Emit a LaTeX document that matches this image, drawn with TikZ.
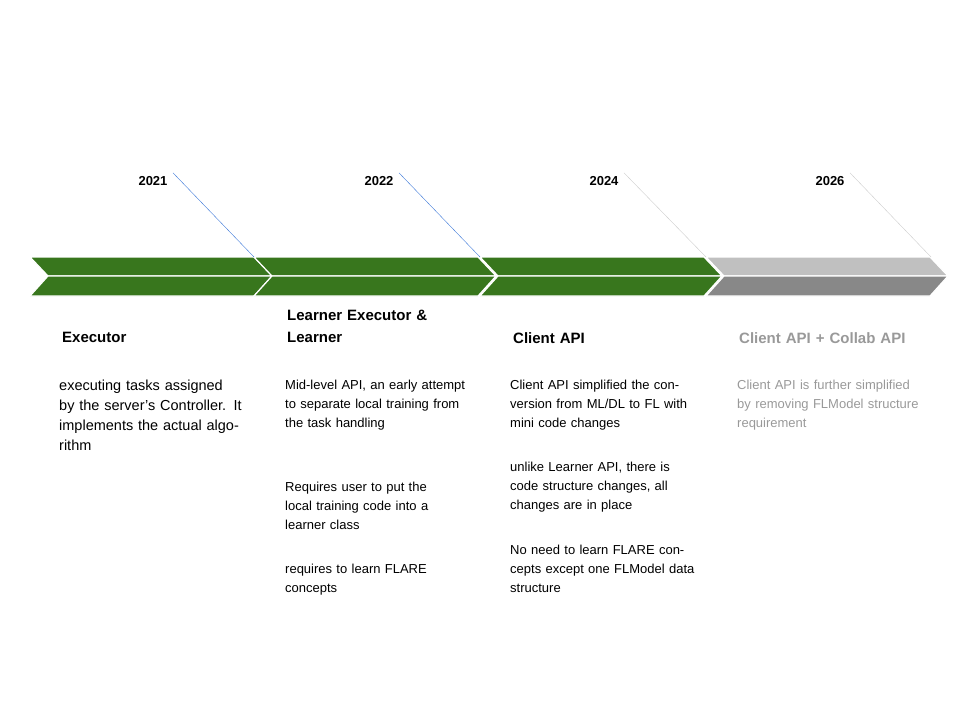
\documentclass[tikz,border=0pt]{standalone}
\usepackage{fontspec}
\setmainfont{Liberation Sans}
\usetikzlibrary{positioning}
\definecolor{flgreen}{HTML}{38761D}
\definecolor{futtop}{HTML}{C0C0C0}
\definecolor{futbot}{HTML}{888888}
\definecolor{futtext}{HTML}{999999}
\definecolor{lineblue}{HTML}{3C78D8}
\definecolor{linegray}{HTML}{CCCCCC}
\begin{document}
\begin{tikzpicture}[
	x=1pt, y=-1pt,
	year/.style = { font=\fontsize{13}{15}\selectfont\bfseries, anchor=center },
	heading/.style = { font=\fontsize{15}{22}\selectfont\bfseries, anchor=north west, align=left, text width=180pt, inner sep=0pt },
	body/.style = { font=\fontsize{13}{19}\selectfont, anchor=north west, align=left, text width=190pt, inner sep=0pt },
	half/.style = { draw=white, line width=1.2pt }
	]
\useasboundingbox (0,0) rectangle (960,720);

	% chevron band
	\foreach \x/\top/\bot in {30/flgreen/flgreen, 254/flgreen/flgreen, 480/flgreen/flgreen, 706/futtop/futbot} {
		\fill[\top, half] (\x,257) -- (\x+224,257) -- (\x+242,276) -- (\x+18,276) -- cycle;
		\fill[\bot, half] (\x+18,276) -- (\x+242,276) -- (\x+224,296) -- (\x,296) -- cycle;
	}
	\coordinate (b1) at (254,257);
	\coordinate (b2) at (480,257);
	\coordinate (b3) at (706,257);
	\coordinate (b4) at (931,257);

	% years
	\node (y2021) [year] at (153,181) {2021};
	\node (y2022) [year] at (379,181) {2022};
	\node (y2024) [year] at (604,181) {2024};
	\node (y2026) [year] at (830,181) {2026};

	\draw[lineblue] (y2021.north east) ++(2,0) -- (b1);
	\draw[lineblue] (y2022.north east) ++(2,0) -- (b2);
	\draw[linegray] (y2024.north east) ++(2,0) -- (b3);
	\draw[linegray] (y2026.north east) ++(2,0) -- (b4);

	% columns
	\node (hExec) [heading] at (62,332) {Executor};
	\node (pExec) [body, font=\fontsize{14.5}{20}\selectfont, text width=185pt] at (59,380) {executing tasks assigned by the server's Controller. It implements the actual algorithm};

	\node (hLearner) [heading] at (287,310) {Learner Executor \&\\Learner};
	\node (pLearnerA) [body, text width=180pt] at (285,380) {Mid-level API, an early attempt to separate local training from the task handling};
	\node (pLearnerB) [body, text width=170pt] at (285,482) {Requires user to put the local training code into a learner class};
	\node (pLearnerC) [body, text width=170pt] at (285,564) {requires to learn FLARE concepts};

	\node (hClient) [heading] at (513,332) {Client API};
	\node (pClientA) [body, text width=185pt] at (510,380) {Client API simplified the conversion from ML/DL to FL with mini code changes};
	\node (pClientB) [body, text width=185pt] at (510,462) {unlike Learner API, there is code structure changes, all changes are in place};
	\node (pClientC) [body, text width=185pt] at (510,545) {No need to learn FLARE concepts except one FLModel data structure};

	\node (hCollab) [heading, text=futtext] at (739,332) {Client API + Collab API};
	\node (pCollab) [body, text=futtext, text width=185pt] at (737,380) {Client API is further simplified by removing FLModel structure requirement};
\end{tikzpicture}
\end{document}
